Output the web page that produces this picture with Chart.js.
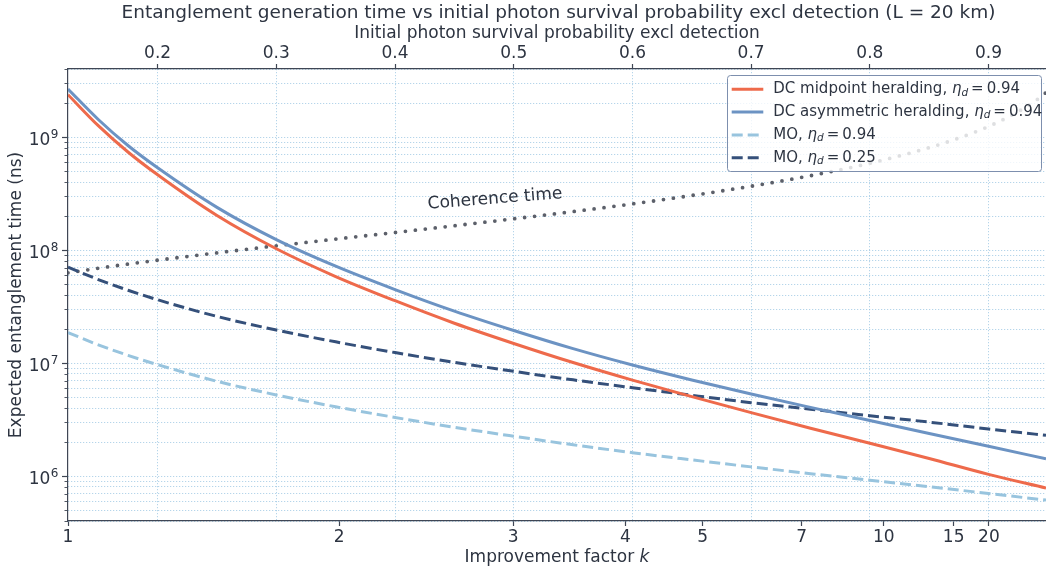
<!DOCTYPE html>
<html>
<head>
<meta charset="utf-8">
<script src="https://cdn.jsdelivr.net/npm/chart.js@4"></script>
<style>
  html, body { margin: 0; padding: 0; background: #fff; }
  canvas { display: block; }
</style>
</head>
<body>
<canvas id="chart" width="1046" height="572"></canvas>
<script>
// x is the photon survival probability (top axis); the k ticks sit at their probability
const probGrid = [0.1245, 0.15, 0.175, 0.2, 0.25, 0.3, 0.35, 0.4, 0.45, 0.5, 0.55, 0.6, 0.65, 0.7, 0.75, 0.8, 0.85, 0.9, 0.9484];
const dcMidpoint = [2.37e9, 1.26e9, 7.37e8, 4.63e8, 2.02e8, 1.026e8, 5.83e7, 3.56e7, 2.25e7, 1.49e7, 1.01e7, 7.06e6, 5.04e6, 3.64e6, 2.65e6, 1.95e6, 1.43e6, 1.035e6, 7.83e5];
const dcAsymmetric = [2.66e9, 1.43e9, 8.41e8, 5.34e8, 2.385e8, 1.237e8, 7.20e7, 4.47e7, 2.88e7, 1.94e7, 1.34e7, 9.60e6, 7.08e6, 5.32e6, 4.05e6, 3.10e6, 2.38e6, 1.835e6, 1.42e6];
const moHighEff = [1.86e7, 1.45e7, 1.17e7, 9.67e6, 6.89e6, 5.22e6, 4.10e6, 3.30e6, 2.70e6, 2.25e6, 1.89e6, 1.61e6, 1.39e6, 1.205e6, 1.05e6, 9.19e5, 8.04e5, 7.01e5, 6.12e5];
const moLowEff = [7.06e7, 5.48e7, 4.41e7, 3.63e7, 2.585e7, 1.96e7, 1.54e7, 1.237e7, 1.015e7, 8.44e6, 7.10e6, 6.05e6, 5.18e6, 4.46e6, 3.90e6, 3.42e6, 3.00e6, 2.61e6, 2.29e6];

const coherenceProb = [0.1245, 0.15, 0.175, 0.2, 0.25, 0.3, 0.35, 0.4, 0.45, 0.5, 0.55, 0.6, 0.65, 0.7, 0.75, 0.8, 0.85, 0.875, 0.9, 0.925, 0.94, 0.9484];
const coherenceTime = [6.28e7, 6.90e7, 7.51e7, 8.13e7, 9.44e7, 1.09e8, 1.25e8, 1.43e8, 1.64e8, 1.89e8, 2.19e8, 2.56e8, 3.04e8, 3.67e8, 4.55e8, 5.86e8, 8.05e8, 9.80e8, 1.24e9, 1.68e9, 2.11e9, 2.47e9];

const probTicks = [0.2, 0.3, 0.4, 0.5, 0.6, 0.7, 0.8, 0.9];
const kTickProb = [0.1245, 0.353, 0.4995, 0.594, 0.6592, 0.7425, 0.8118, 0.8706, 0.9003];
const kTickLabels = ['1', '2', '3', '4', '5', '7', '10', '15', '20'];
const yMajorTicks = [1e5, 1e6, 1e7, 1e8, 1e9];

const xMin = 0.1245, xMax = 0.9484;
const yMin = 4e5, yMax = 4e9;

const TEXT = '#2d3441';
const AXIS = '#3f4654';
const GRID = 'rgba(140,190,222,0.8)';
const FONT = '"DejaVu Sans", sans-serif';

const pts = (xs, ys) => xs.map((x, i) => ({ x, y: ys[i] }));

const series = [
  { name: 'DC midpoint heralding, ', eta: '0.94', data: pts(probGrid, dcMidpoint), color: '#ee6a4b', dash: [], order: 1 },
  { name: 'DC asymmetric heralding, ', eta: '0.94', data: pts(probGrid, dcAsymmetric), color: '#6c93c3', dash: [], order: 2 },
  { name: 'MO, ', eta: '0.94', data: pts(probGrid, moHighEff), color: '#98c4de', dash: [11, 5], order: 3 },
  { name: 'MO, ', eta: '0.25', data: pts(probGrid, moLowEff), color: '#35507a', dash: [11, 5], order: 4 },
];

const datasets = series.map(s => ({
  data: s.data,
  borderColor: s.color,
  borderWidth: 3,
  borderDash: s.dash,
  pointRadius: 0,
  fill: false,
  cubicInterpolationMode: 'monotone',
  order: s.order,
}));
datasets.push({
  data: pts(coherenceProb, coherenceTime),
  borderColor: '#5c606a',
  borderWidth: 3.8,
  borderDash: [0, 10],
  borderCapStyle: 'round',
  pointRadius: 0,
  fill: false,
  cubicInterpolationMode: 'monotone',
  order: 5,
});

const overlay = {
  id: 'overlay',
  afterDatasetsDraw(chart) {
    const ctx = chart.ctx;
    // legend, semi transparent like matplotlib's frame
    const lx = 727.5, ly = 75.5, lw = 314, lh = 96;
    ctx.save();
    ctx.beginPath();
    ctx.roundRect(lx, ly, lw, lh, 3);
    ctx.fillStyle = 'rgba(255,255,255,0.8)';
    ctx.fill();
    ctx.strokeStyle = '#7d8fae';
    ctx.lineWidth = 1;
    ctx.stroke();

    series.forEach((s, i) => {
      const y = 89.3 + i * 22.8;
      ctx.beginPath();
      ctx.setLineDash(s.dash);
      ctx.strokeStyle = s.color;
      ctx.lineWidth = 3;
      ctx.moveTo(731.7, y);
      ctx.lineTo(763.3, y);
      ctx.stroke();
      ctx.setLineDash([]);

      ctx.fillStyle = TEXT;
      ctx.textBaseline = 'middle';
      ctx.textAlign = 'left';
      let x = 773.3;
      ctx.font = `15px ${FONT}`;
      ctx.fillText(s.name, x, y);
      x += ctx.measureText(s.name).width;
      ctx.font = `italic 15px ${FONT}`;
      ctx.fillText('\u03b7', x, y);
      x += ctx.measureText('\u03b7').width;
      ctx.font = `italic 10.5px ${FONT}`;
      ctx.fillText('d', x, y + 3.5);
      x += ctx.measureText('d').width + 3;
      ctx.font = `15px ${FONT}`;
      ctx.fillText('=', x, y);
      x += ctx.measureText('=').width + 3;
      ctx.fillText(s.eta, x, y);
    });
    ctx.restore();
  },
  afterDraw(chart) {
    const ctx = chart.ctx;
    const ys = chart.scales.y;
    const area = chart.chartArea;
    ctx.save();

    // main title
    ctx.fillStyle = TEXT;
    ctx.font = `18.5px ${FONT}`;
    ctx.textAlign = 'center';
    ctx.textBaseline = 'middle';
    ctx.fillText('Entanglement generation time vs initial photon survival probability excl detection (L = 20 km)', 558.5, 13);

    // bottom axis title with italic k
    const a = 'Improvement factor ';
    ctx.font = `17px ${FONT}`;
    const wa = ctx.measureText(a).width;
    ctx.font = `italic 17px ${FONT}`;
    const wk = ctx.measureText('k').width;
    const x0 = (area.left + area.right) / 2 - (wa + wk) / 2;
    ctx.textAlign = 'left';
    ctx.font = `17px ${FONT}`;
    ctx.fillText(a, x0, 557.5);
    ctx.font = `italic 17px ${FONT}`;
    ctx.fillText('k', x0 + wa, 557.5);

    // y ticks: long for decades, short for the rest
    ctx.strokeStyle = AXIS;
    ys.ticks.forEach(t => {
      const py = ys.getPixelForValue(t.value);
      const lg = Math.log10(t.value);
      const major = Math.abs(lg - Math.round(lg)) < 1e-6;
      ctx.lineWidth = major ? 1.2 : 0.9;
      ctx.beginPath();
      ctx.moveTo(area.left - (major ? 6 : 3.5), Math.round(py) + 0.5);
      ctx.lineTo(area.left, Math.round(py) + 0.5);
      ctx.stroke();
      if (major) {
        const exp = String(Math.round(lg));
        ctx.font = `12px ${FONT}`;
        const wSup = ctx.measureText(exp).width;
        ctx.font = `17px ${FONT}`;
        const wBase = ctx.measureText('10').width;
        const xr = 58.5;
        ctx.textBaseline = 'alphabetic';
        ctx.fillText('10', xr - wSup - wBase - 0.5, py + 7.5);
        ctx.font = `12px ${FONT}`;
        ctx.fillText(exp, xr - wSup, py + 0.5);
      }
    });

    // annotation on the coherence curve
    ctx.translate(495, 199);
    ctx.rotate(-4.5 * Math.PI / 180);
    ctx.font = `17px ${FONT}`;
    ctx.textAlign = 'center';
    ctx.textBaseline = 'middle';
    ctx.fillText('Coherence time', 0, 0);
    ctx.restore();
  }
};

const tickFont = { family: FONT, size: 17 };

new Chart(document.getElementById('chart'), {
  type: 'line',
  data: { datasets },
  options: {
    responsive: false,
    animation: false,
    devicePixelRatio: 1,
    layout: { padding: 0 },
    plugins: {
      legend: { display: false },
      tooltip: { enabled: false },
      title: { display: false },
    },
    scales: {
      x: {
        type: 'linear',
        position: 'bottom',
        min: xMin,
        max: xMax,
        afterBuildTicks: s => { s.ticks = kTickProb.map(value => ({ value })); },
        afterFit: s => { s.height = 51; },
        ticks: {
          autoSkip: false, maxRotation: 0, padding: 1, color: TEXT, font: tickFont,
          callback: (v, i) => kTickLabels[i],
        },
        grid: { drawOnChartArea: false, tickLength: 5, tickColor: AXIS, tickWidth: 1.2 },
        border: { color: AXIS, width: 1.2 },
      },
      x2: {
        type: 'linear',
        position: 'top',
        min: xMin,
        max: xMax,
        afterBuildTicks: s => { s.ticks = probTicks.map(value => ({ value })); },
        afterFit: s => { s.height = 69; },
        ticks: {
          autoSkip: false, maxRotation: 0, padding: 0, color: TEXT, font: tickFont,
          callback: v => v.toFixed(1),
        },
        grid: { color: GRID, lineWidth: 1, tickLength: 5, tickColor: AXIS, tickWidth: 1.2 },
        border: { color: AXIS, width: 1.2, dash: [1, 2] },
        title: {
          display: true,
          text: 'Initial photon survival probability excl detection',
          color: TEXT, font: tickFont,
          padding: { top: 23.6, bottom: 0 },
        },
      },
      y: {
        type: 'logarithmic',
        position: 'left',
        min: yMin,
        max: yMax,
        afterBuildTicks: s => {
          const t = [];
          yMajorTicks.forEach(m => {
            for (let k = 1; k <= 9; k++) {
              const v = k * m;
              if (v >= yMin && v <= yMax) t.push({ value: v });
            }
          });
          s.ticks = t;
        },
        afterFit: s => { s.width = 68; },
        ticks: { display: false },
        grid: { color: GRID, lineWidth: 1, drawTicks: false },
        border: { color: AXIS, width: 1.2, dash: [1, 2] },
        title: {
          display: true,
          text: 'Expected entanglement time (ns)',
          color: TEXT, font: tickFont,
          padding: { top: 6.8, bottom: 0 },
        },
      },
    },
  },
  plugins: [overlay],
});
</script>
</body>
</html>
